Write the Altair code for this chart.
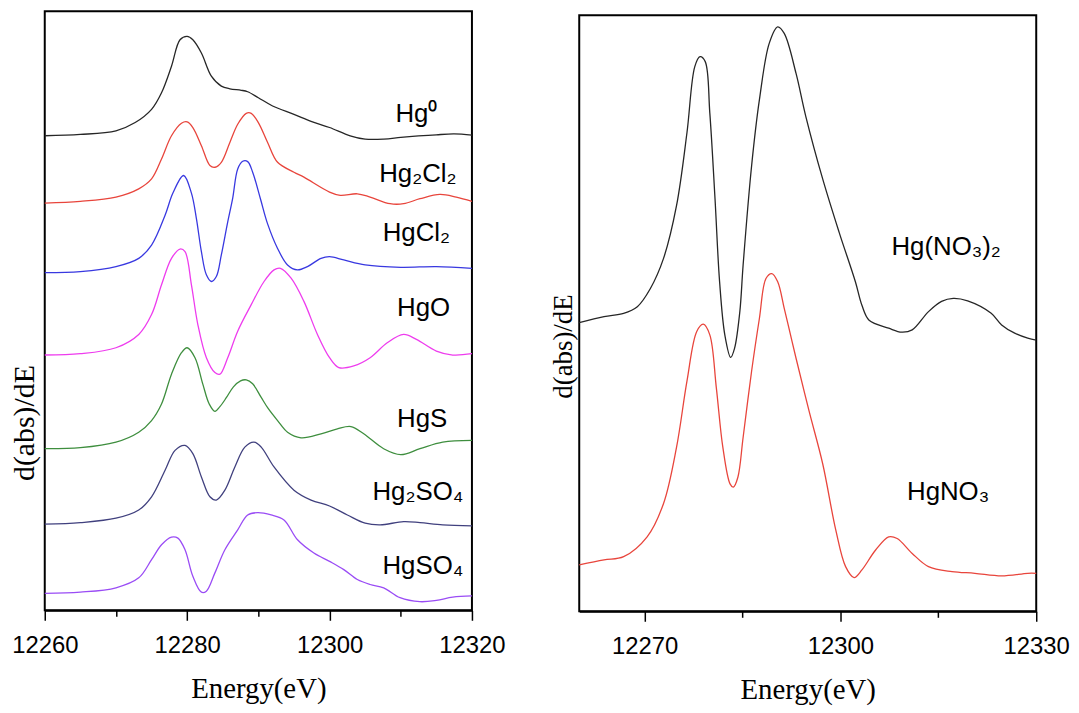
import altair as alt
import pandas as pd

# ---------------- Left panel data (energy in eV, offset d(abs)/dE in arbitrary units) -------------
hg0_e = [12260, 12265, 12270, 12272.7, 12275, 12276.4, 12277.8, 12279, 12280, 12280.8, 12282, 12283.4,
         12284.8, 12286, 12287.6, 12288.5, 12290, 12292, 12295, 12297.5, 12300, 12302.9, 12305,
         12307.6, 12310, 12312.5, 12315, 12317.5, 12320]
hg0_v = [477.7, 479, 482.7, 491, 504.3, 521, 547.7, 574.3, 577.7, 574.3, 561, 537.7,
         527.7, 525, 523.5, 522, 516, 507.7, 499.3, 492, 486, 477.7, 474.3,
         474.3, 476, 477.5, 478.7, 479.5, 478.3]

hg2cl2_e = [12260, 12265, 12270, 12273.2, 12275, 12276.4, 12277.8, 12279.2, 12280, 12280.8, 12282, 12283.2,
            12283.9, 12284.8, 12286, 12287.1, 12288.3, 12289, 12290, 12291.3, 12292.7, 12295, 12296.4, 12300,
            12301.5, 12303.9, 12305.7, 12308.5, 12310.4, 12312.7, 12315.5, 12317.8, 12320]
hg2cl2_v = [410, 411.7, 416, 424.3, 434.3, 454.3, 477.7, 490.3, 491.7, 486, 467.7, 447.7,
            446, 451, 471, 489.3, 500.3, 500.3, 491, 471, 451, 441, 436, 421,
            417.7, 419.3, 416, 409.3, 409.3, 414.3, 418.7, 416, 411.7]

hgcl2_e = [12260, 12265, 12270, 12273.2, 12275, 12276.9, 12278, 12279.5, 12280.6, 12281.3, 12282, 12282.7,
           12283.4, 12284.1, 12284.8, 12285.7, 12286.4, 12287.1, 12287.8, 12288.5, 12289.2, 12290.3, 12291.3,
           12292.7, 12294.1, 12295.5, 12296.9, 12298.8, 12300, 12302, 12305, 12310, 12315, 12320]
hgcl2_v = [340, 341, 346, 354.3, 367.7, 397.7, 420, 437.7, 420, 394.3, 361, 337.7,
           331, 336, 357.7, 391, 415, 444.3, 452, 451.7, 441, 414, 389,
           364.3, 347.7, 342.7, 346, 354.3, 356, 352.7, 347.7, 345.3, 346, 344.3]

hgo_e = [12260, 12265, 12270, 12273.2, 12275, 12276.4, 12277.8, 12279, 12279.7, 12280.6, 12281.5, 12282.7,
         12283.9, 12284.6, 12285.7, 12287.1, 12289, 12290.8, 12292.2, 12293.1, 12294.6, 12296.4, 12298.3,
         12300, 12301.3, 12303.4, 12305.7, 12308.1, 12310.4, 12312.2, 12315, 12317.3, 12320]
hgo_v = [257, 258.3, 264.3, 277.7, 297.7, 327.7, 354.3, 363.7, 361, 327.7, 287.7, 254.3,
         239.3, 237.7, 254.3, 281, 307.7, 331, 342.7, 344.3, 334.3, 311, 277.7,
         254.3, 244.3, 246, 254.3, 269.3, 277.7, 272.7, 261, 257, 258.3]

hgs_e = [12260, 12265, 12270, 12273.2, 12275, 12276.4, 12277.8, 12279.2, 12280, 12281.1, 12282.2, 12283.1,
         12283.9, 12284.6, 12285.5, 12286.5, 12287.5, 12288.3, 12289.2, 12290.4, 12291.3, 12292.7, 12294.1,
         12296, 12298.8, 12301.1, 12303, 12304.8, 12307.6, 12310, 12312.7, 12315.9, 12320]
hgs_v = [162.7, 163.7, 169.3, 179.3, 191, 207.7, 237.7, 259.3, 264.3, 254.3, 227.7, 207.7,
         200.3, 205, 214, 225, 231, 232, 228, 214.3, 204, 191, 179.3,
         173.7, 177.7, 182.7, 185, 177.7, 162.7, 156.7, 162.7, 169.3, 171]

hg2so4_e = [12260, 12265, 12270, 12273.2, 12275, 12276.9, 12278.3, 12279.7, 12280.8, 12282, 12283.2, 12284.1,
            12285.3, 12286.7, 12288.1, 12289.4, 12290.4, 12292.2, 12295, 12297.4, 12300, 12302.5, 12305,
            12307.1, 12310.4, 12312.7, 12315.9, 12320]
hg2so4_v = [86.7, 88.3, 92.7, 101, 114.3, 141, 161, 166, 157.7, 134.3, 114.3, 111,
            121, 144.3, 164.3, 169.3, 164.3, 144.3, 121, 111, 105, 96, 87.7,
            86, 89.3, 88.3, 86, 85]

hgso4_e = [12260, 12265, 12270, 12273.2, 12275, 12276.4, 12277.8, 12278.7, 12279.7, 12280.8, 12282, 12282.7,
           12283.9, 12285.3, 12287.1, 12288.5, 12289.9, 12291.8, 12293.6, 12295.5, 12297.8, 12300, 12302,
           12303.9, 12305.7, 12307.6, 12309.9, 12312.7, 12315, 12317.3, 12320]
hgso4_v = [17, 18.3, 22.7, 32.7, 51, 66, 73.7, 72.7, 61, 34.3, 18.3, 19.3,
           37.7, 61, 81, 96, 98.3, 96, 91, 71, 57.7, 49.3, 41,
           31, 26, 22.7, 12.7, 8.7, 10, 13.3, 14.5]

left_names = ["Hg0", "Hg2Cl2", "HgCl2", "HgO", "HgS", "Hg2SO4", "HgSO4"]
left_colors = ["#262626", "#e8453c", "#3838e0", "#ee3cee", "#3e8e3e", "#40407e", "#9a4cf5"]
left_label_text = ["Hg\u2070", "Hg\u2082Cl\u2082", "HgCl\u2082", "HgO", "HgS", "Hg\u2082SO\u2084", "HgSO\u2084"]
left_label_e = [12312.2, 12312.4, 12312.2, 12313.2, 12313.0, 12312.4, 12313.1]
left_label_v = [500, 439, 380, 304, 193, 119, 45]

# ---------------- Right panel data -------------
hgno32_e = [12260, 12263.8, 12266.8, 12268.9, 12270.9, 12272.9, 12274.9, 12276.5, 12277.7, 12278.5, 12279.3,
            12280, 12280.8, 12281.5, 12282.3, 12283.2, 12283.8, 12284.6, 12285.1, 12286.4, 12287.6, 12289.1,
            12290.4, 12291.4, 12293.2, 12294.7, 12297.3, 12299.8, 12302.3, 12303.3, 12304.4, 12307.4, 12309.4,
            12311, 12313.5, 12315.5, 12317.3, 12319.5, 12323.1, 12324.7, 12326.7, 12328.7, 12330]
hgno32_v = [290.7, 296.7, 300, 306.7, 325, 355, 408.3, 481.7, 548.3, 558.3, 553.3,
            501.7, 415, 331.7, 278.3, 255.7, 265, 301.7, 348.3, 448.3, 515, 571.7,
            588.3, 581.7, 541.7, 498.3, 435, 381.7, 331.7, 308, 293, 285, 281,
            283.3, 301.7, 312, 315, 312.5, 300, 288.3, 280, 275, 273]

hgno3_e = [12260, 12263.8, 12266.8, 12270.4, 12272.9, 12274.9, 12276.5, 12278, 12279, 12280, 12281, 12282,
           12283.1, 12283.6, 12284.3, 12285.1, 12286.4, 12287.6, 12288.6, 12289.5, 12290.4, 12291.4, 12292.3,
           12293.2, 12295.2, 12297.3, 12299.3, 12300.8, 12302.1, 12303.3, 12305.4, 12307.4, 12308.7,
           12311, 12313.5, 12317.1, 12320.6, 12324.7, 12328.7, 12330]
hgno3_v = [46.7, 51.7, 55, 75, 108.3, 165, 231.7, 281.7, 289, 278.3, 225, 165,
           128.3, 125, 135, 175, 241.7, 295, 335, 340, 331.7, 305, 280,
           255, 201.7, 148.3, 81.7, 45, 34, 41.7, 61.7, 75, 73.3,
           58.3, 45, 40, 38.3, 35.7, 38.3, 38.3]

right_names = ["Hg(NO3)2", "HgNO3"]
right_colors = ["#262626", "#ee2a36"]
right_label_text = ["Hg(NO\u2083)\u2082", "HgNO\u2083"]
right_label_e = [12316.2, 12316.5]
right_label_v = [367, 120]

left_major = [12260, 12280, 12300, 12320]
left_minor = [12270, 12290, 12310]
right_major = [12270, 12300, 12330]
right_minor = [12285, 12315]

# ---------------- Build tables -------------
def frame(names, es, vs):
    rows = []
    for n, e, v in zip(names, es, vs):
        rows.append(pd.DataFrame({"E": e, "v": v, "s": n}))
    return pd.concat(rows, ignore_index=True)

left_df = frame(left_names,
                [hg0_e, hg2cl2_e, hgcl2_e, hgo_e, hgs_e, hg2so4_e, hgso4_e],
                [hg0_v, hg2cl2_v, hgcl2_v, hgo_v, hgs_v, hg2so4_v, hgso4_v])
right_df = frame(right_names, [hgno32_e, hgno3_e], [hgno32_v, hgno3_v])
left_lab = pd.DataFrame({"E": left_label_e, "v": left_label_v, "t": left_label_text})
right_lab = pd.DataFrame({"E": right_label_e, "v": right_label_v, "t": right_label_text})

SERIF = "Liberation Serif"
SANS = "Liberation Sans"


def major_axis(values):
    return alt.Axis(
        values=values, format="d", title="Energy(eV)", orient="bottom",
        tickSize=10, tickColor="black", tickWidth=1.5, domainColor="black", domainWidth=2,
        labelFont=SANS, labelFontSize=24, labelColor="black", labelPadding=13,
        labelFlush=False, labelOverlap=False, grid=False,
        titleFont=SERIF, titleFontSize=29, titleFontWeight="normal", titleColor="black",
        titlePadding=18,
    )


def minor_axis(values):
    return alt.Axis(
        values=values, orient="bottom", title=None, labels=False, domain=False, grid=False,
        tickSize=6, tickColor="black", tickWidth=1.5,
    )


def y_axis(tx, ty, size):
    return alt.Axis(
        labels=False, ticks=False, domain=False, grid=False, title="d(abs)/dE",
        titleFont=SERIF, titleFontSize=size, titleFontWeight="normal", titleColor="black",
        titleX=tx, titleY=ty, titleAngle=270, titleAlign="center", titleBaseline="middle",
    )


def panel(df, lab, names, colors, dom_x, dom_y, major, minor, tx, ty, tsize, w, h):
    xs = alt.Scale(domain=dom_x, nice=False, zero=False)
    ys = alt.Scale(domain=dom_y, nice=False, zero=False)
    ya = y_axis(tx, ty, tsize)
    lines = alt.Chart(df).mark_line(strokeWidth=1.3, interpolate="catmull-rom").encode(
        x=alt.X("E:Q", scale=xs, axis=major_axis(major)),
        y=alt.Y("v:Q", scale=ys, axis=ya),
        color=alt.Color("s:N", scale=alt.Scale(domain=names, range=colors), legend=None),
    )
    labels = alt.Chart(lab).mark_text(
        font=SANS, fontSize=26, color="black", align="center", baseline="middle"
    ).encode(
        x=alt.X("E:Q", scale=xs, axis=minor_axis(minor)),
        y=alt.Y("v:Q", scale=ys, axis=ya),
        text="t:N",
    )
    return alt.layer(lines, labels).resolve_axis(x="independent").properties(width=w, height=h)


left = panel(left_df, left_lab, left_names, left_colors, [12260, 12320], [0, 603],
             left_major, left_minor, -20.5, 414, 30, 430, 603)
right = panel(right_df, right_lab, right_names, right_colors, [12260, 12330], [0, 600],
              right_major, right_minor, -16, 333, 27, 460, 600)

spacer = alt.Chart(pd.DataFrame({"a": [0]})).mark_point(size=1, opacity=0).encode(
    x=alt.value(5), y=alt.value(1)
).properties(width=460, height=1, view=alt.ViewBackground(stroke="transparent"))

right_col = alt.vconcat(spacer, right, spacing=0)

chart = alt.hconcat(left, right_col, spacing=42).properties(
    padding={"left": 0, "top": 0, "right": 0, "bottom": 0},
    background="white",
).configure_view(stroke="black", strokeWidth=2)

chart.save("out.html", embed_options={"renderer": "svg", "actions": False})
